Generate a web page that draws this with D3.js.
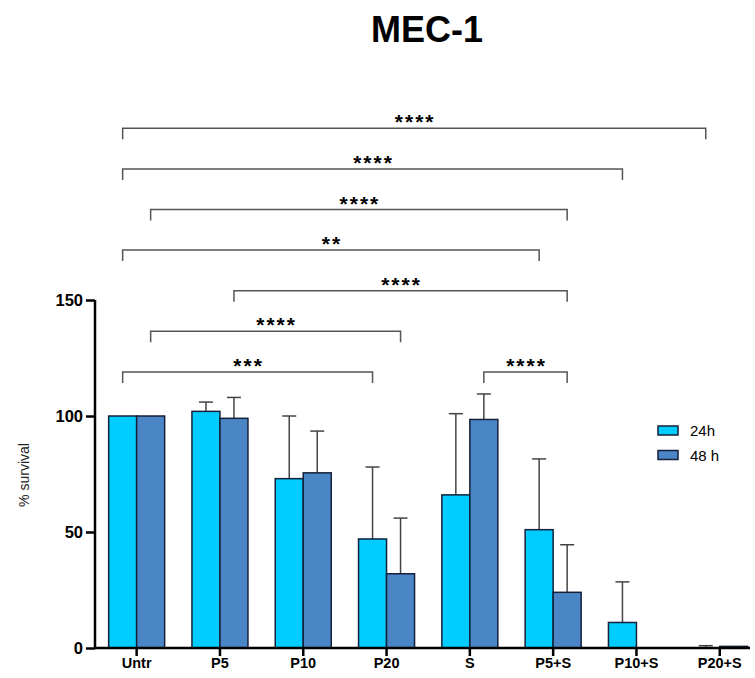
<!DOCTYPE html>
<html>
<head>
<meta charset="utf-8">
<script src="https://cdn.jsdelivr.net/npm/d3@7"></script>
<style>
  body { margin: 0; background: #fff; }
  text { font-family: "Liberation Sans", Arial, sans-serif; }
</style>
</head>
<body>
<div id="chart"></div>
<script>
// data
const categories = ["Untr", "P5", "P10", "P20", "S", "P5+S", "P10+S", "P20+S"];
const seriesNames = ["24h", "48 h"];
const mean24 = [100, 102, 73, 47, 66, 51, 11, 0];
const err24 = [0, 4, 27, 31, 35, 30.5, 17.5, 1];
const mean48 = [100, 99, 75.5, 32, 98.5, 24, 0, 0.7];
const err48 = [0, 9, 18, 24, 11, 20.5, 0, 0];
const yTicks = [0, 50, 100, 150];

// significance brackets (series index 0 = 24h, 1 = 48 h)
const brFrom = [["Untr", 0], ["S", 1], ["Untr", 1], ["P5", 1], ["Untr", 0], ["Untr", 1], ["Untr", 0], ["Untr", 0]];
const brTo = [["P20", 0], ["P5+S", 1], ["P20", 1], ["P5+S", 1], ["P5+S", 0], ["P5+S", 1], ["P10+S", 0], ["P20+S", 0]];
const brLevel = [119, 119, 136.5, 154, 171.5, 189, 206.5, 224];
const brLabel = ["***", "****", "****", "****", "**", "****", "****", "****"];

const width = 755, height = 678;
const colors = ["#00CCFF", "#4A86C6"];

const svg = d3.select("#chart").append("svg")
    .attr("width", width)
    .attr("height", height);

const x0 = d3.scaleBand().domain(categories).range([95, 95 + 8 * 83.3]);
const x1 = d3.scaleBand().domain([0, 1]).range([-28, 28]);
const y = d3.scaleLinear().domain([0, 150]).range([648, 300]);

const rows = categories.map((c, i) => ({
    cat: c,
    vals: [
        { s: 0, v: mean24[i], e: err24[i] },
        { s: 1, v: mean48[i], e: err48[i] }
    ]
}));

const cx = (cat, s) => x0(cat) + x0.bandwidth() / 2 + x1(s) + x1.bandwidth() / 2;

// error bars (upward only)
const eb = svg.append("g")
    .selectAll("g")
    .data(rows.flatMap(r => r.vals.map(d => ({ ...d, cat: r.cat }))).filter(d => d.e > 0))
    .join("g")
        .attr("stroke", "#444")
        .attr("stroke-width", 1.5);

eb.append("line")
    .attr("x1", d => cx(d.cat, d.s)).attr("x2", d => cx(d.cat, d.s))
    .attr("y1", d => y(d.v)).attr("y2", d => y(d.v + d.e));
eb.append("line")
    .attr("x1", d => cx(d.cat, d.s) - 7).attr("x2", d => cx(d.cat, d.s) + 7)
    .attr("y1", d => y(d.v + d.e)).attr("y2", d => y(d.v + d.e));

// bars
svg.append("g")
    .selectAll("g")
    .data(rows)
    .join("g")
        .attr("transform", d => `translate(${x0(d.cat) + x0.bandwidth() / 2},0)`)
    .selectAll("rect")
    .data(d => d.vals.filter(v => v.v > 0))
    .join("rect")
        .attr("x", d => x1(d.s))
        .attr("width", x1.bandwidth())
        .attr("y", d => y(d.v))
        .attr("height", d => y(0) - y(d.v))
        .attr("fill", d => colors[d.s])
        .attr("stroke", "#14213a")
        .attr("stroke-width", 1.5);

// y axis
const yAxis = svg.append("g")
    .attr("transform", "translate(95,0)")
    .call(d3.axisLeft(y).tickValues(yTicks).tickSize(9).tickPadding(3));
yAxis.select(".domain").attr("stroke", "#000").attr("stroke-width", 2.5).attr("d", `M0,${y(150)}V${y(0)}`);
yAxis.selectAll(".tick line").attr("stroke", "#000").attr("stroke-width", 2.5);
yAxis.selectAll(".tick text")
    .attr("font-size", 16.5).attr("font-weight", "bold").attr("fill", "#000")
    .style("font-family", "'Liberation Sans', Arial, sans-serif");

// x axis
const xAxis = svg.append("g")
    .attr("transform", `translate(0,${y(0)})`)
    .call(d3.axisBottom(x0).tickSize(8).tickPadding(2));
xAxis.select(".domain").attr("stroke", "#000").attr("stroke-width", 2.5).attr("d", "M94,0H750");
xAxis.selectAll(".tick line").attr("stroke", "#000").attr("stroke-width", 2.5);
xAxis.selectAll(".tick text")
    .attr("font-size", 14.5).attr("font-weight", "bold").attr("fill", "#000")
    .style("font-family", "'Liberation Sans', Arial, sans-serif");

// y label
svg.append("text")
    .attr("transform", "translate(29,475) rotate(-90)")
    .attr("text-anchor", "middle")
    .attr("font-size", 14)
    .attr("fill", "#222")
    .text("% survival");

// title
svg.append("text")
    .attr("x", 427).attr("y", 42)
    .attr("text-anchor", "middle")
    .attr("font-size", 36)
    .attr("font-weight", "bold")
    .text("MEC-1");

// brackets
const br = svg.append("g").selectAll("g")
    .data(brLabel.map((l, i) => ({ from: brFrom[i], to: brTo[i], level: brLevel[i], label: l })))
    .join("g");

br.append("path")
    .attr("fill", "none")
    .attr("stroke", "#555")
    .attr("stroke-width", 1.5)
    .attr("d", d => {
        const xa = cx(d.from[0], d.from[1]), xb = cx(d.to[0], d.to[1]), yy = y(d.level);
        return `M${xa},${yy + 11}V${yy}H${xb}V${yy + 11}`;
    });

br.append("text")
    .attr("x", d => (cx(d.from[0], d.from[1]) + cx(d.to[0], d.to[1])) / 2 + 1)
    .attr("y", d => y(d.level) + 1)
    .attr("text-anchor", "middle")
    .attr("font-size", 21)
    .attr("font-weight", "bold")
    .attr("letter-spacing", 2)
    .text(d => d.label);

// legend
const legend = svg.append("g").selectAll("g")
    .data(seriesNames)
    .join("g")
        .attr("transform", (d, i) => `translate(658,${426 + i * 24.5})`);
legend.append("rect")
    .attr("width", 20).attr("height", 9)
    .attr("fill", (d, i) => colors[i])
    .attr("stroke", "#14213a").attr("stroke-width", 1.5);
legend.append("text")
    .attr("x", 32).attr("y", 10)
    .attr("font-size", 15)
    .text(d => d);
</script>
</body>
</html>
